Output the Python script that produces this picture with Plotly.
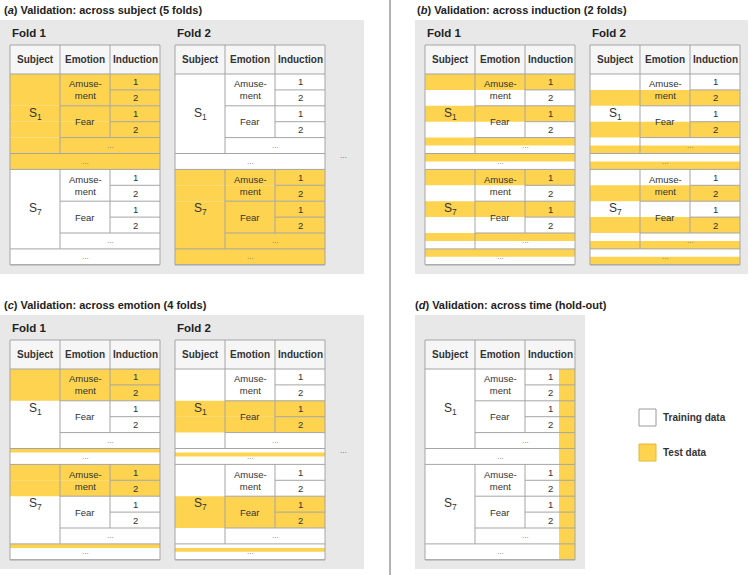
import plotly.graph_objects as go

# ---- chart content ----
columns = ["Subject", "Emotion", "Induction"]
subjects = ["S<sub>1</sub>", "S<sub>7</sub>"]
emotions = ["Amuse-<br>ment", "Fear"]
inductions = ["1", "2"]
dots = "..."

panel_titles = [
    "(<i>a</i>) Validation: across subject (5 folds)",
    "(<i>b</i>) Validation: across induction (2 folds)",
    "(<i>c</i>) Validation: across emotion (4 folds)",
    "(<i>d</i>) Validation: across time (hold-out)",
]
fold_labels = ["Fold 1", "Fold 2"]
n_folds = [5, 2, 4, 1]

# rows of one subject block: 4 induction rows, emotion "...", subject "..."
# 1 = test, 0 = training, "s" = this fold's share of the row
test_a = [[1, 1, 1, 1, 1, 1, 0, 0, 0, 0, 0, 0],
          [0, 0, 0, 0, 0, 0, 1, 1, 1, 1, 1, 1]]
test_b = [[1, 0, 1, 0, "s", "s"] * 2,
          [0, 1, 0, 1, "s", "s"] * 2]
test_c = [[1, 1, 0, 0, 0, "s"] * 2,
          [0, 0, 1, 1, 0, "s"] * 2]
holdout_share = 0.32

legend_labels = ["Training data", "Test data"]

# ---- style ----
YELLOW = "#FDD34F"
GRID = "#A5A5A5"
BG = "#E8E8E8"
HEAD = "#F6F6F6"
TXT = "#333333"
FONT = "Liberation Sans, Arial, sans-serif"
COL_W = 50
HEAD_H = 29
ROW_H = 15.9

shapes = []
annots = []


def rect(x0, y0, x1, y1, fill, line=None, width=0):
    shapes.append(dict(type="rect", xref="x", yref="y", x0=x0, y0=y0, x1=x1, y1=y1,
                       fillcolor=fill, line=dict(color=line or fill, width=width)))


def line(x0, y0, x1, y1, color=GRID, width=1):
    shapes.append(dict(type="line", xref="x", yref="y", x0=x0, y0=y0, x1=x1, y1=y1,
                       line=dict(color=color, width=width)))


def text(x, y, s, size=9.5, color=TXT, xanchor="center", bold=False):
    if bold:
        s = "<b>" + s + "</b>"
    annots.append(dict(x=x, y=y, xref="x", yref="y", text=s, showarrow=False,
                       xanchor=xanchor, yanchor="middle",
                       font=dict(family=FONT, size=size, color=color)))


def draw_table(x0, y0, test=None, fold=0, nf=1, holdout=False):
    n_rows = 6 * len(subjects)
    top = y0 + HEAD_H
    bottom = top + n_rows * ROW_H
    right = x0 + len(columns) * COL_W
    rect(x0, top, right, bottom, "white")
    rect(x0, y0, right, top, HEAD)

    if test is not None:
        for r, t in enumerate(test):
            ry = top + r * ROW_H
            if t == 1:
                rect(x0, ry, right, ry + ROW_H, YELLOW)
            elif t == "s":
                rect(x0, ry + fold / nf * ROW_H, right, ry + (fold + 1) / nf * ROW_H, YELLOW)
    if holdout:
        rect(right - holdout_share * COL_W, top, right, bottom, YELLOW)

    # header
    for c, name in enumerate(columns):
        text(x0 + (c + 0.5) * COL_W, y0 + HEAD_H / 2, name, size=10, bold=True)
        if c > 0:
            line(x0 + c * COL_W, y0, x0 + c * COL_W, top)
    line(x0, top, right, top)

    for s, subj in enumerate(subjects):
        bt = top + 6 * s * ROW_H
        line(x0 + COL_W, bt, x0 + COL_W, bt + 5 * ROW_H)
        line(x0 + 2 * COL_W, bt, x0 + 2 * COL_W, bt + 4 * ROW_H)
        for e, emo in enumerate(emotions):
            et = bt + 2 * e * ROW_H
            text(x0 + 1.5 * COL_W, et + ROW_H, emo)
            for i, ind in enumerate(inductions):
                text(x0 + 2.5 * COL_W, et + (i + 0.5) * ROW_H, ind)
            line(x0 + 2 * COL_W, et + ROW_H, right, et + ROW_H)
            line(x0 + COL_W, et + 2 * ROW_H, right, et + 2 * ROW_H)
        text(x0 + 0.5 * COL_W, bt + 2.5 * ROW_H, subj, size=12)
        text(x0 + 2 * COL_W, bt + 4.5 * ROW_H, dots, size=8, color="#777777")
        line(x0, bt + 5 * ROW_H, right, bt + 5 * ROW_H)
        text(x0 + 1.5 * COL_W, bt + 5.5 * ROW_H, dots, size=8, color="#777777")
        line(x0, bt + 6 * ROW_H, right, bt + 6 * ROW_H)

    shapes.append(dict(type="rect", xref="x", yref="y", x0=x0, y0=y0, x1=right, y1=bottom,
                       line=dict(color=GRID, width=1)))


panels = [
    dict(title=(2, 10), bg=(0, 20, 364, 274), tables=[(10, 45), (175, 45)], test=test_a, more=(343, 155)),
    dict(title=(415, 10), bg=(415, 20, 748, 274), tables=[(425, 45), (590, 45)], test=test_b, more=None),
    dict(title=(2, 305), bg=(0, 315, 364, 569), tables=[(10, 340), (175, 340)], test=test_c, more=(343, 450)),
    dict(title=(413, 305), bg=(415, 315, 585, 569), tables=[(425, 340)], test=None, more=None),
]

for p, panel in enumerate(panels):
    tx, ty = panel["title"]
    text(tx, ty, panel_titles[p], size=11, color="#222222", xanchor="left", bold=True)
    rect(*panel["bg"], BG)
    for f, (x0, y0) in enumerate(panel["tables"]):
        if panel["test"] is not None:
            text(x0, y0 - 12, fold_labels[f], size=11.5, color="#222222", xanchor="left", bold=True)
            draw_table(x0, y0, panel["test"][f], f, n_folds[p])
        else:
            draw_table(x0, y0, holdout=True)
    if panel["more"]:
        text(panel["more"][0], panel["more"][1], dots, size=8, color="#555555")

# divider
line(390, 0, 390, 575, color="#8C8C8C", width=1.3)

# legend
for k, (lab, col) in enumerate(zip(legend_labels, ["white", YELLOW])):
    ly = 409 + k * 35
    rect(639, ly, 656, ly + 17, col, line="#9A9A9A" if k == 0 else "#E2B840", width=1)
    text(661, ly + 8.5, lab, size=10, xanchor="left", bold=True)

fig = go.Figure(go.Scatter(x=[], y=[]))
fig.update_layout(
    width=750, height=575, autosize=False,
    margin=dict(l=0, r=0, t=0, b=0),
    paper_bgcolor="white", plot_bgcolor="white",
    xaxis=dict(range=[0, 750], visible=False, fixedrange=True),
    yaxis=dict(range=[575, 0], visible=False, fixedrange=True),
    shapes=shapes, annotations=annots, showlegend=False,
)
# page body has a default 8px margin; drop it so the figure fills the window
fig.write_html("out.html", config=dict(displayModeBar=False),
               post_script="document.body.style.margin='0';")
